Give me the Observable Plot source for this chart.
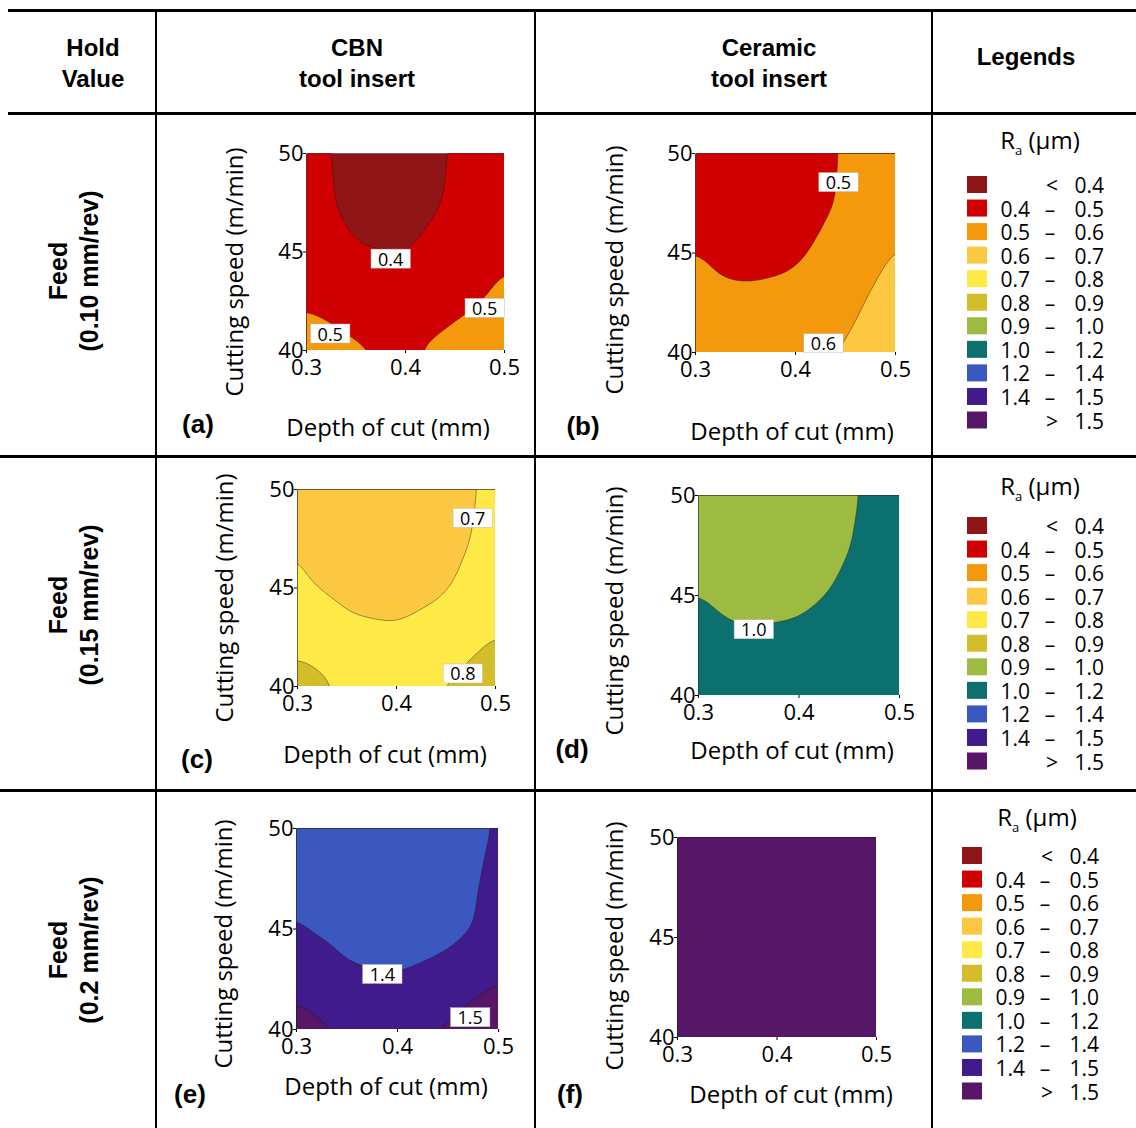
<!DOCTYPE html>
<html>
<head>
<meta charset="utf-8">
<script src="https://cdn.jsdelivr.net/npm/d3@7"></script>
<script src="https://cdn.jsdelivr.net/npm/@observablehq/plot@0.6"></script>
<style>
html,body{margin:0;padding:0;background:#fff;}
#fig{position:relative;width:1136px;height:1128px;overflow:hidden;background:#fff;}
#fig svg.plot{position:absolute;}
</style>
</head>
<body>
<div id="fig"></div>
<script>
// ---------- data ----------
const depth = [0.3, 0.35, 0.4, 0.45, 0.5];          // mm (columns)
const speed = [50, 47.5, 45, 42.5, 40];             // m/min (rows, top to bottom)
const xTicks = [0.3, 0.4, 0.5];
const yTicks = [40, 45, 50];

// Ra (µm) read at grid nodes, rows follow `speed`, columns follow `depth`
const raA = [
  [0.43, 0.37, 0.365, 0.405, 0.47],
  [0.435, 0.375, 0.37, 0.41, 0.48],
  [0.455, 0.405, 0.398, 0.43, 0.49],
  [0.485, 0.44, 0.43, 0.465, 0.525],
  [0.57, 0.515, 0.485, 0.55, 0.59]
];
const raB = [
  [0.46, 0.43, 0.44, 0.51, 0.585],
  [0.465, 0.435, 0.445, 0.515, 0.59],
  [0.503, 0.47, 0.485, 0.545, 0.605],
  [0.53, 0.52, 0.53, 0.57, 0.65],
  [0.61, 0.565, 0.575, 0.605, 0.72]
];
const raC = [
  [0.69, 0.655, 0.65, 0.675, 0.715],
  [0.698, 0.665, 0.66, 0.68, 0.72],
  [0.71, 0.68, 0.675, 0.695, 0.74],
  [0.765, 0.72, 0.71, 0.73, 0.805],
  [0.85, 0.785, 0.77, 0.805, 0.87]
];
const raD = [
  [0.96, 0.93, 0.94, 0.985, 1.06],
  [0.97, 0.94, 0.95, 0.995, 1.07],
  [1.002, 0.965, 0.975, 1.02, 1.1],
  [1.04, 1.02, 1.03, 1.07, 1.15],
  [1.09, 1.07, 1.08, 1.12, 1.215]
];
const raE = [
  [1.38, 1.34, 1.33, 1.355, 1.41],
  [1.39, 1.35, 1.34, 1.365, 1.42],
  [1.405, 1.37, 1.36, 1.375, 1.425],
  [1.47, 1.415, 1.405, 1.435, 1.5],
  [1.54, 1.49, 1.47, 1.515, 1.565]
];
const raF = [
  [1.62, 1.6, 1.6, 1.62, 1.66],
  [1.63, 1.61, 1.61, 1.63, 1.67],
  [1.65, 1.63, 1.63, 1.65, 1.69],
  [1.68, 1.66, 1.66, 1.68, 1.72],
  [1.72, 1.7, 1.7, 1.72, 1.76]
];

// contour labels
const labA = [{d: 0.385, s: 44.6, t: "0.4"}, {d: 0.48, s: 42.1, t: "0.5"}, {d: 0.324, s: 40.8, t: "0.5"}];
const labB = [{d: 0.443, s: 48.5, t: "0.5"}, {d: 0.428, s: 40.4, t: "0.6"}];
const labC = [{d: 0.477, s: 48.5, t: "0.7"}, {d: 0.467, s: 40.6, t: "0.8"}];
const labD = [{d: 0.355, s: 43.25, t: "1.0"}];
const labE = [{d: 0.385, s: 42.7, t: "1.4"}, {d: 0.472, s: 40.55, t: "1.5"}];
const labF = [];

// legend bands
const bandLimits = [0.4, 0.5, 0.6, 0.7, 0.8, 0.9, 1.0, 1.2, 1.4, 1.5];
const bandColors = ["#8f1517", "#d10000", "#f5990c", "#fcc841", "#fee946", "#d3bd2b",
                    "#9ebb41", "#0b706e", "#3b57c0", "#411a8b", "#571667"];
const legendLow  = ["", "0.4", "0.5", "0.6", "0.7", "0.8", "0.9", "1.0", "1.2", "1.4", ""];
const legendSep  = ["<", "–", "–", "–", "–", "–", "–", "–", "–", "–", ">"];
const legendHigh = ["0.4", "0.5", "0.6", "0.7", "0.8", "0.9", "1.0", "1.2", "1.4", "1.5", "1.5"];

// table texts
const colHeaders = [["Hold", "Value"], ["CBN", "tool insert"], ["Ceramic", "tool insert"], ["Legends"]];
const rowHeaders = [["Feed", "(0.10 mm/rev)"], ["Feed", "(0.15 mm/rev)"], ["Feed", "(0.2 mm/rev)"]];
const xTitle = "Depth of cut (mm)";
const yTitle = "Cutting speed (m/min)";
const panelLetters = ["(a)", "(b)", "(c)", "(d)", "(e)", "(f)"];

// ---------- layout ----------
const fig = d3.select("#fig");
const bg = fig.append("svg").attr("width", 1136).attr("height", 1128)
  .style("position", "absolute").style("left", 0).style("top", 0);

const rules = [
  [8, 9, 1128, 3], [8, 112, 1128, 3], [0, 455, 1136, 3], [0, 789, 1136, 3],
  [155, 10, 2, 1118], [534, 10, 2, 1118], [931, 10, 2, 1118]
];
bg.selectAll("rect.rule").data(rules).join("rect")
  .attr("x", d => d[0]).attr("y", d => d[1]).attr("width", d => d[2]).attr("height", d => d[3])
  .attr("fill", "#000");

const boldFont = "'Liberation Sans', Arial, sans-serif";
const sansFont = "'Open Sans', sans-serif";

// column headers
const hdrPos = [[93, 56], [357, 56], [769, 56], [1026, 65]];
colHeaders.forEach((lines, i) => {
  lines.forEach((ln, j) => bg.append("text").attr("x", hdrPos[i][0]).attr("y", hdrPos[i][1] + j * 31)
    .attr("text-anchor", "middle").attr("font-family", boldFont).attr("font-weight", "bold")
    .attr("font-size", 24).text(ln));
});

// row headers (rotated)
const rowCy = [271, 605, 950];
rowHeaders.forEach((lines, i) => {
  const g = bg.append("g").attr("transform", `translate(0,${rowCy[i]}) rotate(-90)`);
  lines.forEach((ln, j) => g.append("text").attr("x", 0).attr("y", 67 + j * 31)
    .attr("text-anchor", "middle").attr("font-family", boldFont).attr("font-weight", "bold")
    .attr("font-size", 25).text(ln));
});

// legends
const legends = [
  {cx: 1040, titleB: 149, firstB: 193, swX: 967},
  {cx: 1040, titleB: 495, firstB: 534, swX: 967},
  {cx: 1037, titleB: 826, firstB: 864, swX: 962}
];
legends.forEach(L => {
  const t = bg.append("text").attr("x", L.cx).attr("y", L.titleB).attr("text-anchor", "middle")
    .attr("font-family", sansFont).attr("font-size", 24);
  t.append("tspan").text("R");
  t.append("tspan").attr("font-size", 13).attr("dy", 6).text("a");
  t.append("tspan").attr("dy", -6).text(" (μm)");
  bandColors.forEach((c, i) => {
    const b = L.firstB + i * 23.55;
    bg.append("rect").attr("x", L.swX).attr("y", b - 17).attr("width", 20).attr("height", 17).attr("fill", c);
    const txt = (x, anchor, s) => bg.append("text").attr("x", x).attr("y", b).attr("text-anchor", anchor)
      .attr("font-family", sansFont).attr("font-size", 21).text(s);
    if (legendLow[i]) txt(L.swX + 63, "end", legendLow[i]);
    txt(L.swX + (legendSep[i] === "–" ? 83 : 85), "middle", legendSep[i]);
    txt(L.swX + 137, "end", legendHigh[i]);
  });
});

// ---------- panels ----------
const panels = [
  {grid: raA, labels: labA, frame: [306, 153, 504, 350], yt: [235, 272], xt: [388, 428], lt: [198, 424]},
  {grid: raB, labels: labB, frame: [695, 153, 895, 352], yt: [615, 270], xt: [792, 432], lt: [583, 426]},
  {grid: raC, labels: labC, frame: [297, 489, 495, 686], yt: [225, 598], xt: [385, 755], lt: [197, 759]},
  {grid: raD, labels: labD, frame: [698, 495, 899, 695], yt: [615, 611], xt: [792, 751], lt: [572, 749]},
  {grid: raE, labels: labE, frame: [296, 828, 498, 1029], yt: [224, 944], xt: [386, 1087], lt: [190, 1094]},
  {grid: raF, labels: labF, frame: [677, 837, 876, 1037], yt: [615, 946], xt: [791, 1095], lt: [570, 1094]}
];

panels.forEach((p, k) => {
  // axis titles and panel letter
  bg.append("g").attr("transform", `translate(${p.yt[0]},${p.yt[1]}) rotate(-90)`)
    .append("text").attr("text-anchor", "middle").attr("dy", "0.35em")
    .attr("font-family", sansFont).attr("font-size", 24).text(yTitle);
  bg.append("text").attr("x", p.xt[0]).attr("y", p.xt[1]).attr("dy", "0.35em").attr("text-anchor", "middle")
    .attr("font-family", sansFont).attr("font-size", 24).text(xTitle);
  bg.append("text").attr("x", p.lt[0]).attr("y", p.lt[1]).attr("dy", "0.35em").attr("text-anchor", "middle")
    .attr("font-family", boldFont).attr("font-weight", "bold").attr("font-size", 26).text(panelLetters[k]);

  const samples = [];
  speed.forEach((s, r) => depth.forEach((d, c) => samples.push({d, s, v: p.grid[r][c]})));

  const [fx0, fy0, fx1, fy1] = p.frame;
  const mL = 50, mR = 20, mT = 15, mB = 40;
  const chart = Plot.plot({
    width: fx1 - fx0 + mL + mR,
    height: fy1 - fy0 + mT + mB,
    marginLeft: mL, marginRight: mR, marginTop: mT, marginBottom: mB,
    x: {domain: [0.3, 0.5]},
    y: {domain: [40, 50]},
    color: {type: "threshold", domain: bandLimits, range: bandColors},
    style: {fontFamily: sansFont, fontSize: "22px", color: "#000", background: "transparent", overflow: "visible"},
    marks: [
      Plot.contour(samples, {
        x: "d", y: "s", fill: "v",
        x1: 0.3, x2: 0.5, y1: 40, y2: 50,
        thresholds: [0, ...bandLimits],
        interpolate: "barycentric", pixelSize: 1, blur: 10,
        stroke: "#1a1a1a", strokeWidth: 0.6, strokeOpacity: 0.7,
        clip: "frame"
      }),
      Plot.axisX({ticks: xTicks, tickFormat: d => d.toFixed(1), tickSize: 3, tickPadding: 6, label: null}),
      Plot.axisY({ticks: yTicks, tickFormat: d => String(d), tickSize: 3, tickPadding: 0, label: null}),
      Plot.text(p.labels, {x: "d", y: "s", text: "t", fontSize: 18, fill: "#000"})
    ]
  });
  chart.classList.add("plot");
  chart.style.left = (fx0 - mL) + "px";
  chart.style.top = (fy0 - mT) + "px";
  document.getElementById("fig").appendChild(chart);

  // white boxes behind contour labels
  chart.querySelectorAll('g[aria-label="text"] text').forEach(t => {
    const b = t.getBBox();
    const r = document.createElementNS("http://www.w3.org/2000/svg", "rect");
    r.setAttribute("x", b.x - 7);
    r.setAttribute("y", b.y + 2.5);
    r.setAttribute("width", b.width + 14);
    r.setAttribute("height", b.height - 5);
    r.setAttribute("fill", "#fff");
    r.setAttribute("stroke", "#bbb");
    r.setAttribute("stroke-width", 0.5);
    const tr = t.getAttribute("transform");
    if (tr) r.setAttribute("transform", tr);
    t.parentNode.insertBefore(r, t);
  });
});
</script>
</body>
</html>
